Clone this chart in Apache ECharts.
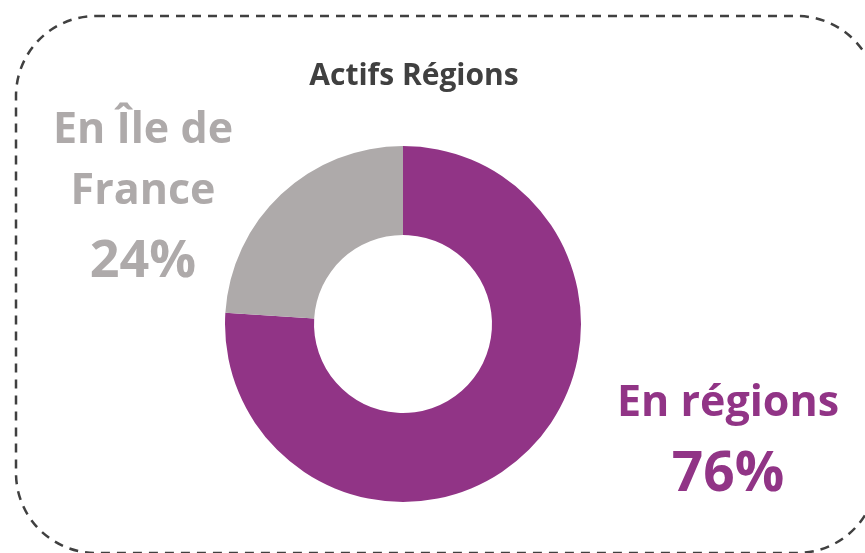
<!DOCTYPE html>
<html>

<head>
    <meta charset="utf-8">
    <script src="https://cdn.jsdelivr.net/npm/echarts@6/dist/echarts.min.js"></script>
    <style>
        body {
            margin: 0;
            background: #fff;
        }
        #chart {
            width: 865px;
            height: 553px;
        }
    </style>
</head>

<body>
    <div id="chart"></div>

    <script>
        // data
        const categories = ['En régions', 'En Île de France'];
        const labelLines = [['En régions'], ['En Île de', 'France']];
        const values = [76, 24];
        const colors = ['#913486', '#aeaaaa'];

        // where each label block sits (center)
        const labelPos = [
            { x: 728, y: 443 },
            { x: 143, y: 201 }
        ];

        const font = '"Open Sans", Lato, sans-serif';

        const chartDom = document.getElementById('chart');
        const myChart = echarts.init(chartDom, null, { renderer: 'canvas' });

        const option = {
            animation: false,
            title: {
                text: 'Actifs Régions',
                left: 409,
                top: 56,
                textAlign: 'center',
                textStyle: {
                    fontFamily: font,
                    fontWeight: 'bold',
                    fontSize: 30,
                    color: '#404040'
                }
            },
            graphic: [
                {
                    type: 'rect',
                    silent: true,
                    shape: { x: 16, y: 16, width: 861, height: 537, r: 80 },
                    style: {
                        fill: 'none',
                        stroke: '#404040',
                        lineWidth: 2.5,
                        lineDash: [9, 7]
                    }
                }
            ],
            series: [{
                type: 'pie',
                center: [403, 324],
                radius: [89, 178],
                startAngle: 90,
                clockwise: true,
                silent: true,
                labelLine: { show: false },
                label: {
                    show: true,
                    position: 'outside',
                    fontFamily: font,
                    fontWeight: 'bold',
                    align: 'center',
                    formatter: (p) => {
                        const lines = labelLines[p.dataIndex].map(l => `{n${p.dataIndex}|${l}}`);
                        lines.push(`{v${p.dataIndex}|${p.value}%}`);
                        return lines.join('\n');
                    },
                    rich: {
                        n0: { fontFamily: font, fontWeight: 'bold', fontSize: 43, lineHeight: 64, color: colors[0], align: 'center' },
                        v0: { fontFamily: font, fontWeight: 'bold', fontSize: 55, lineHeight: 78, color: colors[0], align: 'center' },
                        n1: { fontFamily: font, fontWeight: 'bold', fontSize: 43, lineHeight: 61, color: colors[1], align: 'center' },
                        v1: { fontFamily: font, fontWeight: 'bold', fontSize: 52, lineHeight: 80, color: colors[1], align: 'center' }
                    }
                },
                labelLayout: (params) => ({
                    x: labelPos[params.dataIndex].x,
                    y: labelPos[params.dataIndex].y,
                    align: 'center',
                    verticalAlign: 'middle'
                }),
                data: categories.map((name, i) => ({
                    name: name,
                    value: values[i],
                    itemStyle: { color: colors[i] }
                }))
            }]
        };

        myChart.setOption(option);
    </script>
</body>

</html>
